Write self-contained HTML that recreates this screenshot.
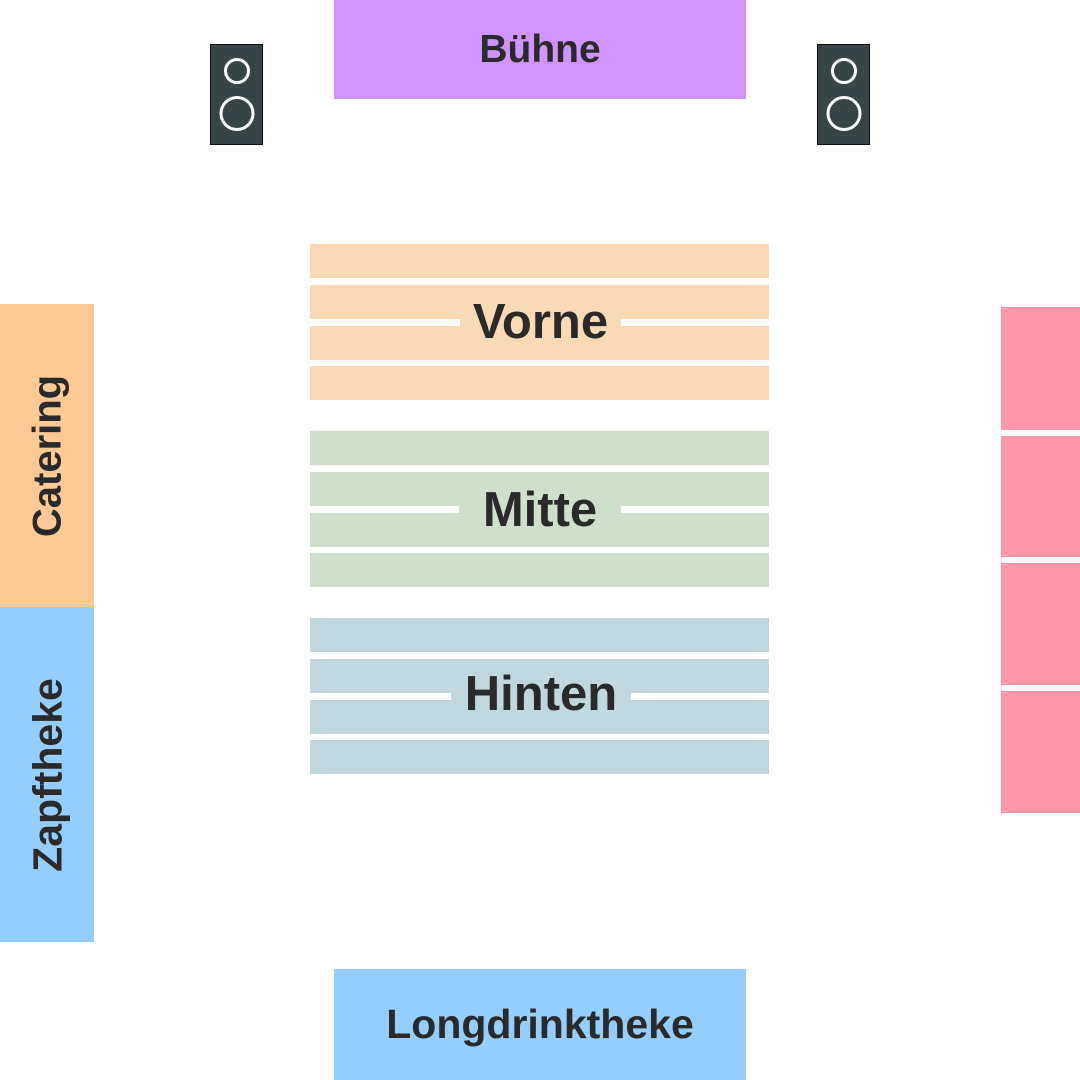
<!DOCTYPE html>
<html><head><meta charset="utf-8"><style>
body{margin:0;width:1080px;height:1080px;background:#fff;position:relative;overflow:hidden;font-family:"Liberation Sans",sans-serif;font-weight:bold;color:#2a2a2a}
div{position:absolute;box-sizing:border-box}
.c{display:flex;align-items:center;justify-content:center}
.o{background:#fadab5}.g{background:#d0dfcb}.b{background:#c2d7dd}
.r{left:310px;width:459px;height:34px}
.p{left:1001px;width:79px;background:#fe97a9}
.spk{width:53px;height:101px;background:#374547;border:1px solid #111}
.ring{border:3px solid #fff;border-radius:50%;left:50%;transform:translateX(-50%)}
</style></head><body>
<div class="c" style="left:334px;top:0;width:412px;height:99px;background:#cf94fd;font-size:39px">Bühne</div>
<div class="spk" style="left:210px;top:44px"><div class="ring" style="top:13px;width:26px;height:26px"></div><div class="ring" style="top:51px;width:35px;height:35px"></div></div>
<div class="spk" style="left:817px;top:44px"><div class="ring" style="top:13px;width:26px;height:26px"></div><div class="ring" style="top:51px;width:35px;height:35px"></div></div>

<div class="r o" style="top:244px"></div><div class="r o" style="top:285px"></div><div class="r o" style="top:326px"></div><div class="r o" style="top:366px"></div>
<div class="o c" style="left:460px;top:298px;width:161px;height:47px;font-size:49px">Vorne</div>

<div class="r g" style="top:431px"></div><div class="r g" style="top:472px"></div><div class="r g" style="top:513px"></div><div class="r g" style="top:553px"></div>
<div class="g c" style="left:459px;top:486px;width:162px;height:47px;font-size:49px">Mitte</div>

<div class="r b" style="top:618px"></div><div class="r b" style="top:659px"></div><div class="r b" style="top:700px"></div><div class="r b" style="top:740px"></div>
<div class="b c" style="left:451px;top:670px;width:180px;height:47px;font-size:49px">Hinten</div>

<div style="left:0;top:304px;width:94px;height:303px;background:#fdc994"></div>
<div class="c" style="left:-104px;top:409px;width:303px;height:94px;transform:rotate(-90deg);font-size:40px">Catering</div>
<div style="left:0;top:607px;width:94px;height:335px;background:#93cefd"></div>
<div class="c" style="left:-120px;top:728px;width:335px;height:94px;transform:rotate(-90deg);font-size:41px">Zapftheke</div>

<div class="p" style="top:307px;height:123px"></div>
<div class="p" style="top:436px;height:121px"></div>
<div class="p" style="top:563px;height:122px"></div>
<div class="p" style="top:691px;height:122px"></div>

<div class="c" style="left:334px;top:969px;width:412px;height:111px;background:#93cefd;font-size:41px">Longdrinktheke</div>
</body></html>
